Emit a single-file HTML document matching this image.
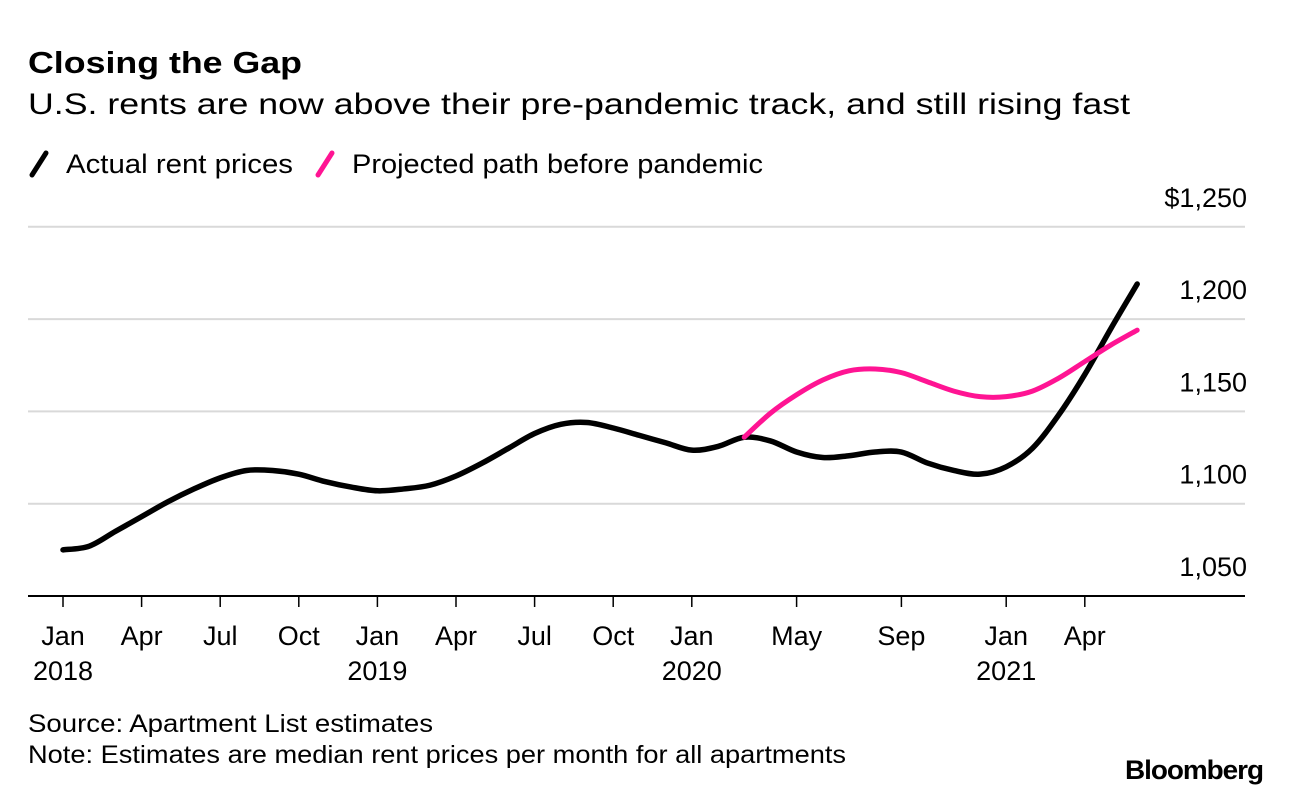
<!DOCTYPE html>
<html><head><meta charset="utf-8"><style>
body{margin:0;background:#fff;font-family:"Liberation Sans",sans-serif;}
svg{display:block}
</style></head><body>
<svg width="1292" height="794" font-family="Liberation Sans, sans-serif">
<text x="28" y="73" font-size="31" font-weight="bold" fill="#000" textLength="274" lengthAdjust="spacingAndGlyphs">Closing the Gap</text>
<text x="28" y="114" font-size="30" fill="#000" textLength="1102" lengthAdjust="spacingAndGlyphs">U.S. rents are now above their pre-pandemic track, and still rising fast</text>
<g>
<line x1="32" y1="175" x2="46" y2="153" stroke="#000" stroke-width="5" stroke-linecap="round"/>
<text x="66" y="173" font-size="27" textLength="227" lengthAdjust="spacingAndGlyphs">Actual rent prices</text>
<line x1="318" y1="175" x2="332" y2="153" stroke="#ff1493" stroke-width="5" stroke-linecap="round"/>
<text x="352" y="173" font-size="27" textLength="411" lengthAdjust="spacingAndGlyphs">Projected path before pandemic</text>
</g>
<g id="grid"></g><g id="xaxis"></g><g id="series"></g>
<text x="28" y="732" font-size="25" textLength="405" lengthAdjust="spacingAndGlyphs">Source: Apartment List estimates</text>
<text x="28" y="763" font-size="25" textLength="818" lengthAdjust="spacingAndGlyphs">Note: Estimates are median rent prices per month for all apartments</text>
<text x="1125" y="779" font-size="27" font-weight="bold" textLength="138" lengthAdjust="spacingAndGlyphs" letter-spacing="-1">Bloomberg</text>
</svg>
<script>
const yTicks=[1050,1100,1150,1200,1250];
const yTickLabels=["1,050","1,100","1,150","1,200","$1,250"];
const xTickMonths=[0,3,6,9,12,15,18,21,24,28,32,36,39];
const xTickLabels=["Jan","Apr","Jul","Oct","Jan","Apr","Jul","Oct","Jan","May","Sep","Jan","Apr"];
const xYearLabels=["2018","","","","2019","","","","2020","","","2021",""];
const actual=[1075,1077,1085,1093,1101,1108,1114,1118,1118,1116,1112,1109,
1107,1108,1110,1115,1122,1130,1138,1143,1144,1141,1137,1133,
1129,1131,1136,1134,1128,1125,1126,1128,1128,1122,1118,1116,
1120,1130,1148,1170,1195,1219];
const projectedStart=26;
const projected=[1136,1149,1159,1167,1172,1173,1171,1166,1161,1158,1158,1161,1168,1177,1186,1194];
const NS="http://www.w3.org/2000/svg";
function x(m){return 63+m*26.2;}
function y(v){return 596-(v-1050)*92.3/50;}
function mk(tag,attrs,parent){const e=document.createElementNS(NS,tag);for(const k in attrs)e.setAttribute(k,attrs[k]);parent.appendChild(e);return e;}
const grid=document.getElementById('grid');
yTicks.forEach((v,i)=>{
 const l=mk('line',{x1:28,x2:1245,y1:y(v),y2:y(v),stroke:i==0?'#000':'#d9d9d9','stroke-width':2},grid);
 
 
 const t=mk('text',{x:1247,y:y(v)-20,'font-size':27,'text-anchor':'end'},grid);
 t.textContent=yTickLabels[i];
 
 
});
const xa=document.getElementById('xaxis');
xTickMonths.forEach((m,i)=>{
 const l=mk('line',{x1:x(m),x2:x(m),y1:597,y2:607,stroke:'#000','stroke-width':1.5},xa);
 
 
 const t=mk('text',{x:x(m),y:645,'font-size':27,'text-anchor':'middle'},xa);
 t.textContent=xTickLabels[i];
 
 
 if(xYearLabels[i]){
  const t2=mk('text',{x:x(m),y:680,'font-size':27,'text-anchor':'middle'},xa);
  t2.textContent=xYearLabels[i];
  
  
 }
});
function smooth(pts){
 let d=`M${pts[0][0]},${pts[0][1]}`;
 for(let i=0;i<pts.length-1;i++){
  const p0=pts[Math.max(0,i-1)],p1=pts[i],p2=pts[i+1],p3=pts[Math.min(pts.length-1,i+2)];
  const c1=[p1[0]+(p2[0]-p0[0])/6,p1[1]+(p2[1]-p0[1])/6];
  const c2=[p2[0]-(p3[0]-p1[0])/6,p2[1]-(p3[1]-p1[1])/6];
  d+=` C${c1[0]},${c1[1]} ${c2[0]},${c2[1]} ${p2[0]},${p2[1]}`;
 }
 return d;
}
const s=document.getElementById('series');
const pa=mk('path',{d:smooth(actual.map((v,i)=>[x(i),y(v)])),fill:'none',stroke:'#000','stroke-width':5.5,'stroke-linecap':'round','stroke-linejoin':'round'},s);


const pp=mk('path',{d:smooth(projected.map((v,i)=>[x(i+projectedStart),y(v)])),fill:'none',stroke:'#ff1493','stroke-width':5,'stroke-linecap':'round','stroke-linejoin':'round'},s);


</script>
</body></html>
